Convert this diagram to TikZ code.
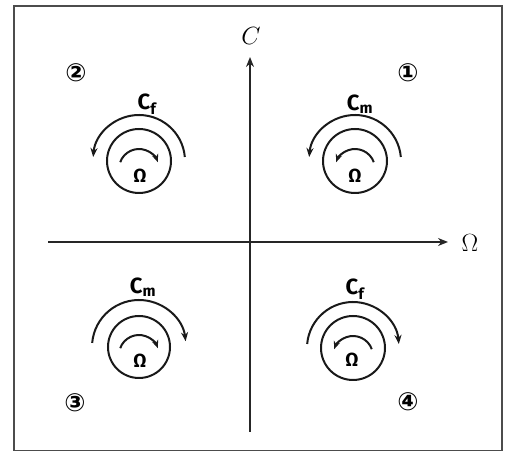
\documentclass[tikz,border=0pt]{standalone}
\usepackage{fontspec}
\newfontfamily\lab{Fira Sans}
\newfontfamily\dv{DejaVu Sans}
\usetikzlibrary{arrows.meta,calc}
\tikzset{
  axis/.style={line width=2.4pt,draw=black!85,-{Stealth[length=10pt,width=8pt]}},
  ring/.style={line width=2pt,draw=black!90},
  torque/.style={line width=2pt,draw=black!90,-{Stealth[length=9pt,width=7pt]}},
  spin/.style={line width=2pt,draw=black!90,-{Stealth[length=8pt,width=6.5pt]}},
  qnum/.style={font=\dv\bfseries\fontsize{25}{25}\selectfont,inner sep=0pt},
  clab/.style={font=\lab\bfseries\fontsize{22}{22}\selectfont,inner sep=0pt},
  olab/.style={font=\lab\bfseries\fontsize{19}{19}\selectfont,inner sep=0pt},
}
\begin{document}
\begin{tikzpicture}[x=1pt,y=1pt]
\useasboundingbox (0,0) rectangle (509,452);
% frame
\draw[line width=1.4pt,draw=black!70] (14,1.5) rectangle (502,446);
% axes
\coordinate (vb) at (250,20);
\coordinate (vt) at (250,395);
\coordinate (hl) at (48,210);
\coordinate (hr) at (448,210);
\draw[axis] (vb) -- (vt);
\draw[axis] (hl) -- (hr);
\node[font=\itshape\fontsize{25}{25}\selectfont,inner sep=0pt] (clabel) at (251,416) {$C$};
\node[font=\fontsize{23}{23}\selectfont,inner sep=0pt] (wlabel) at (470,209) {$\Omega$};
% quadrant 2
\coordinate (c2) at (139,291);
\draw[ring] (c2) circle[radius=32];
\draw[torque] ($(c2)+(5:46)$) arc[start angle=5,end angle=175,radius=46];
\draw[spin] ($(c2)+(0,-8)+(160:20)$) arc[start angle=160,end angle=20,radius=20];
\node[olab] (w2) at (140,276) {Ω};
\node[clab] (t2) at (147,348) {C\textsubscript{f}};
\node[qnum] (n2) at (76,379) {②};
% quadrant 1
\coordinate (c1) at (355,291);
\draw[ring] (c1) circle[radius=32];
\draw[torque] ($(c1)+(5:46)$) arc[start angle=5,end angle=175,radius=46];
\draw[spin] ($(c1)+(0,-8)+(20:20)$) arc[start angle=20,end angle=160,radius=20];
\node[olab] (w1) at (355,276) {Ω};
\node[clab] (t1) at (360,348) {C\textsubscript{m}};
\node[qnum] (n1) at (408,379) {①};
% quadrant 3
\coordinate (c3) at (139,105);
\draw[ring] (c3) circle[radius=31];
\draw[torque] ($(c3)+(175:47)$) arc[start angle=175,end angle=7,radius=47];
\draw[spin] ($(c3)+(0,-8)+(160:20)$) arc[start angle=160,end angle=20,radius=20];
\node[olab] (w3) at (140,91) {Ω};
\node[clab] (t3) at (143,165) {C\textsubscript{m}};
\node[qnum] (n3) at (75,49) {③};
% quadrant 4
\coordinate (c4) at (353,104);
\draw[ring] (c4) circle[radius=32];
\draw[torque] ($(c4)+(175:46)$) arc[start angle=175,end angle=5,radius=46];
\draw[spin] ($(c4)+(0,-8)+(20:20)$) arc[start angle=20,end angle=160,radius=20];
\node[olab] (w4) at (352,92) {Ω};
\node[clab] (t4) at (355,163) {C\textsubscript{f}};
\node[qnum] (n4) at (408,50) {④};
\end{tikzpicture}
\end{document}
